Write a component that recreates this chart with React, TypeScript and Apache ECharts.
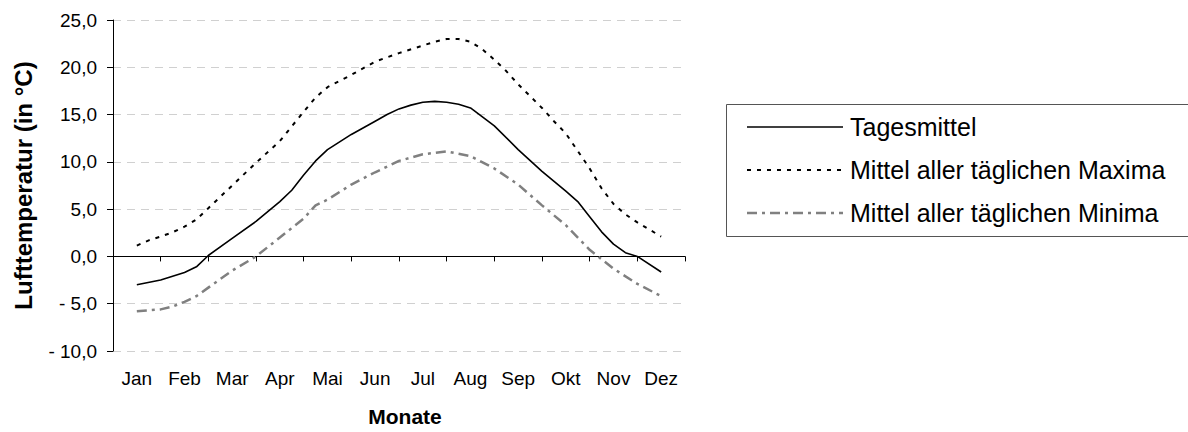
import React, { useEffect, useRef } from "react";
import * as echarts from "echarts";

const months = ["Jan", "Feb", "Mar", "Apr", "Mai", "Jun", "Jul", "Aug", "Sep", "Okt", "Nov", "Dez"];

const seriesNames = ["Tagesmittel", "Mittel aller täglichen Maxima", "Mittel aller täglichen Minima"];

// positions in months (0 = start of Jan, 12 = end of Dez)
const meanPos = [0.5, 1.0, 1.5, 1.75, 2.0, 2.5, 3.0, 3.5, 3.75, 4.0, 4.25, 4.5, 5.0, 5.5, 5.75, 6.0, 6.25, 6.5, 6.75, 7.0, 7.25, 7.5, 8.0, 8.5, 9.0, 9.5, 9.75, 10.0, 10.25, 10.5, 10.75, 11.0, 11.5];
const meanVal = [-3.0, -2.5, -1.7, -1.1, 0.1, 1.9, 3.7, 5.8, 7.0, 8.6, 10.1, 11.3, 12.9, 14.3, 15.0, 15.6, 16.0, 16.3, 16.4, 16.3, 16.1, 15.7, 13.8, 11.3, 9.0, 6.9, 5.8, 4.2, 2.6, 1.3, 0.4, 0.0, -1.65];

const maxPos = [0.5, 0.75, 1.0, 1.25, 1.5, 1.75, 2.0, 2.5, 3.0, 3.5, 4.0, 4.25, 4.5, 5.0, 5.5, 6.0, 6.5, 6.75, 7.0, 7.25, 7.5, 7.75, 8.0, 8.25, 8.5, 9.0, 9.25, 9.5, 10.0, 10.25, 10.5, 10.75, 11.0, 11.5];
const maxVal = [1.15, 1.7, 2.1, 2.55, 3.15, 3.9, 5.1, 7.5, 9.9, 12.2, 15.3, 16.8, 17.9, 19.2, 20.6, 21.5, 22.3, 22.7, 23.0, 23.0, 22.7, 21.9, 20.8, 19.6, 18.2, 15.7, 14.3, 13.0, 9.3, 7.2, 5.55, 4.45, 3.6, 2.1];

const minPos = [0.5, 1.0, 1.25, 1.5, 1.75, 2.0, 2.5, 3.0, 3.5, 4.0, 4.25, 4.5, 5.0, 5.5, 6.0, 6.5, 7.0, 7.5, 8.0, 8.5, 9.0, 9.5, 10.0, 10.5, 11.0, 11.5];
const minVal = [-5.8, -5.6, -5.3, -4.8, -4.2, -3.3, -1.5, 0.0, 2.0, 4.0, 5.4, 6.0, 7.6, 8.9, 10.1, 10.8, 11.1, 10.6, 9.3, 7.6, 5.4, 3.3, 0.7, -1.3, -2.9, -4.2];

const FONT = "'Liberation Sans', Arial, sans-serif";

const seriesColors = ["#000000", "#000000", "#808080"];
const seriesWidths = [1.6, 2, 2.5];
const seriesDash: (number[] | null)[] = [null, [4, 6], [10, 5, 3, 5]];

const pair = (p: number[], v: number[]) => p.map((x, i) => [x, v[i]]);

export default function App() {
  const ref = useRef<HTMLDivElement>(null);
  useEffect(() => {
    if (!ref.current) return;
    const chart = echarts.init(ref.current, null, { renderer: "svg" });

    const legendRows = [127, 170, 213];
    const legendGraphics: any[] = [
      {
        type: "rect",
        shape: { x: 726.5, y: 104.5, width: 480, height: 132 },
        style: { fill: "none", stroke: "#555", lineWidth: 1 },
        silent: true,
      },
    ];
    seriesNames.forEach((name, i) => {
      legendGraphics.push({
        type: "line",
        shape: { x1: 747, y1: legendRows[i], x2: 843, y2: legendRows[i] },
        style: {
          stroke: seriesColors[i],
          lineWidth: seriesWidths[i],
          lineDash: seriesDash[i] || undefined,
        },
        silent: true,
      });
      legendGraphics.push({
        type: "text",
        x: 850,
        y: legendRows[i],
        style: {
          text: name,
          fontFamily: FONT,
          fontSize: 25,
          fill: "#000",
          verticalAlign: "middle",
          align: "left",
        },
        silent: true,
      });
    });

    const option = {
      animation: false,
      backgroundColor: "#ffffff",
      grid: { left: 113, top: 20, right: 503, bottom: 80, containLabel: false },
      xAxis: [
        {
          type: "category",
          data: months,
          boundaryGap: true,
          name: "Monate",
          nameLocation: "middle",
          nameGap: 55,
          nameTextStyle: { fontFamily: FONT, fontSize: 21, fontWeight: "bold", color: "#000", padding: [0, 0, 0, 12] },
          axisLine: { lineStyle: { color: "#000", width: 1 } },
          axisTick: { show: true, length: 5, lineStyle: { color: "#000" } },
          axisLabel: { fontFamily: FONT, fontSize: 19, color: "#000", margin: 18 },
          splitLine: { show: false },
        },
        {
          type: "value",
          min: 0,
          max: 12,
          show: false,
        },
      ],
      yAxis: {
        type: "value",
        min: -10,
        max: 25,
        interval: 5,
        name: "Lufttemperatur (in °C)",
        nameLocation: "middle",
        nameGap: 78,
        nameTextStyle: { fontFamily: FONT, fontSize: 24, fontWeight: "bold", color: "#000" },
        axisLine: { show: true, lineStyle: { color: "#000", width: 1 } },
        axisTick: { show: true, length: 6, lineStyle: { color: "#000" } },
        axisLabel: {
          fontFamily: FONT,
          fontSize: 19,
          color: "#000",
          margin: 16,
          formatter: (v: number) => {
            const s = Math.abs(v).toFixed(1).replace(".", ",");
            return v < 0 ? "- " + s : s;
          },
        },
        splitLine: { show: true, lineStyle: { color: "#d0d0d0", width: 1, type: [8, 6] } },
      },
      graphic: legendGraphics,
      series: [
        {
          name: seriesNames[0],
          type: "line",
          xAxisIndex: 1,
          data: pair(meanPos, meanVal),
          symbol: "none",
          lineStyle: { color: seriesColors[0], width: seriesWidths[0], type: "solid" },
        },
        {
          name: seriesNames[1],
          type: "line",
          xAxisIndex: 1,
          data: pair(maxPos, maxVal),
          symbol: "none",
          lineStyle: { color: seriesColors[1], width: seriesWidths[1], type: seriesDash[1] },
        },
        {
          name: seriesNames[2],
          type: "line",
          xAxisIndex: 1,
          data: pair(minPos, minVal),
          symbol: "none",
          lineStyle: { color: seriesColors[2], width: seriesWidths[2], type: seriesDash[2] },
        },
      ],
    };
    chart.setOption(option as any);
    return () => chart.dispose();
  }, []);
  return (
    <div
      ref={ref}
      style={{ position: "absolute", left: 0, top: 0, width: 1188, height: 432, background: "#fff" }}
    />
  );
}
